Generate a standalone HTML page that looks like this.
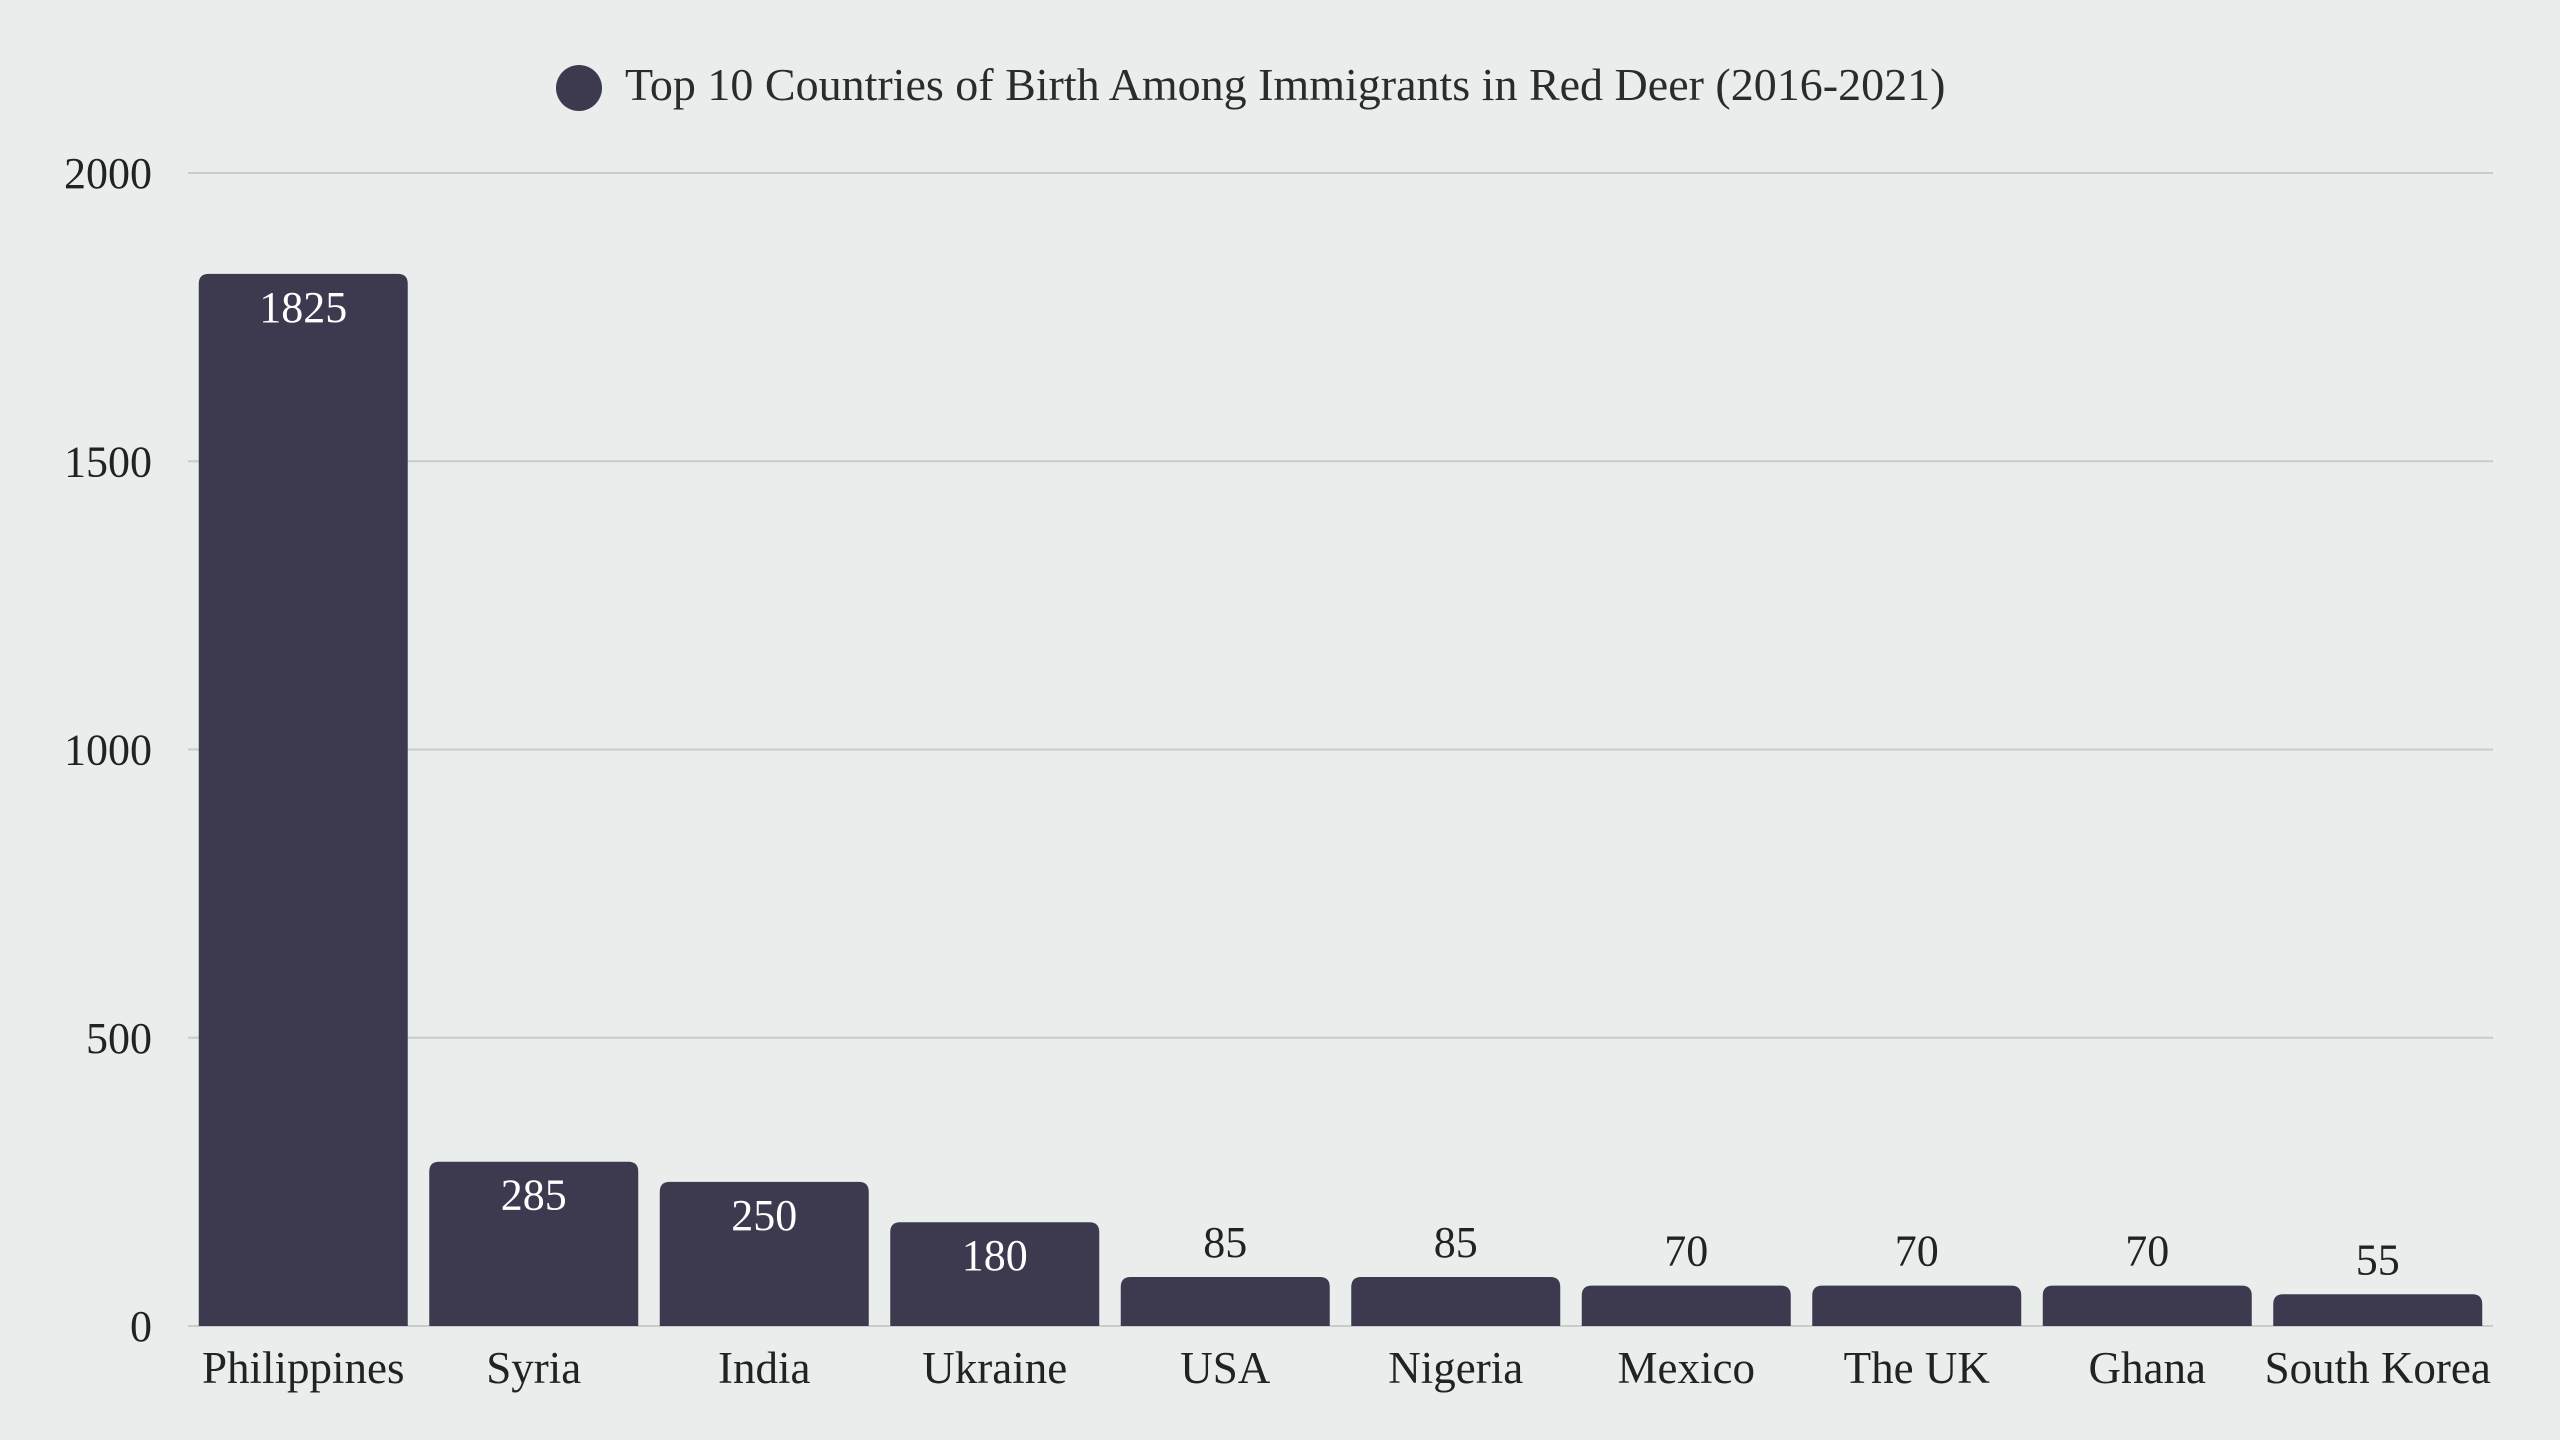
<!DOCTYPE html>
<html><head><meta charset="utf-8"><style>
html,body{margin:0;padding:0;background:#e9edec;}
svg{display:block;font-family:"Liberation Serif",serif;}
</style></head><body>
<svg id="chart" width="2560" height="1440" viewBox="0 0 2560 1440" xmlns="http://www.w3.org/2000/svg">
<rect width="2560" height="1440" fill="#e9edec"/>
<g>
<circle cx="579" cy="88" r="23" fill="#3d394e"/>
<text x="625" y="100" font-size="46" fill="#2b2b2b">Top 10 Countries of Birth Among Immigrants in Red Deer (2016-2021)</text>
</g>
<g id="grid"></g>
<g id="yaxis"></g>
<g id="bars"></g>
<g id="xaxis"></g>
</svg>
<script>
const categories = ["Philippines","Syria","India","Ukraine","USA","Nigeria","Mexico","The UK","Ghana","South Korea"];
const values = [1825,285,250,180,85,85,70,70,70,55];
const yTicks = [0,500,1000,1500,2000];

const NS="http://www.w3.org/2000/svg";
const left=188, right=2493, y0=1326, yTop=173, yMax=2000;
const slot=(right-left)/categories.length, bw=209;
function y(v){return y0-(v/yMax)*(y0-yTop);}
function x(i){return left+i*slot;}
function mk(tag,attrs,parent){const e=document.createElementNS(NS,tag);for(const k in attrs)e.setAttribute(k,attrs[k]);parent.appendChild(e);return e;}
const grid=document.getElementById('grid'),ya=document.getElementById('yaxis'),bars=document.getElementById('bars'),xa=document.getElementById('xaxis');
yTicks.forEach(t=>{
  if(t>0){const l=mk('line',{x1:left,x2:right,y1:y(t),y2:y(t),stroke:'#c9cccc','stroke-width':2},grid);
  
  }
  const tx=mk('text',{x:152,y:y(t)+15,'text-anchor':'end','font-size':44,fill:'#222'},ya);
  tx.textContent=t;
  
  
});
mk('line',{x1:left,x2:right,y1:y0,y2:y0,stroke:'#c9cccc','stroke-width':2},grid);
categories.forEach((c,i)=>{
  const v=values[i], bx=x(i)+(slot-bw)/2, by=y(v), h=y0-by, r=Math.min(10,h/2);
  const p=mk('path',{d:`M${bx},${y0} L${bx},${by+r} Q${bx},${by} ${bx+r},${by} L${bx+bw-r},${by} Q${bx+bw},${by} ${bx+bw},${by+r} L${bx+bw},${y0} Z`,fill:'#3d394e'},bars);
  
  
  const inside=v>150;
  const vl=mk('text',{x:bx+bw/2,y:inside?by+48:by-20,'text-anchor':'middle','font-size':44,fill:inside?'#ffffff':'#222'},bars);
  vl.textContent=v;
  
  
  const xl=mk('text',{x:bx+bw/2,y:1383,'text-anchor':'middle','font-size':45,fill:'#222'},xa);
  xl.textContent=c;
  
  
});
</script>
</body></html>
